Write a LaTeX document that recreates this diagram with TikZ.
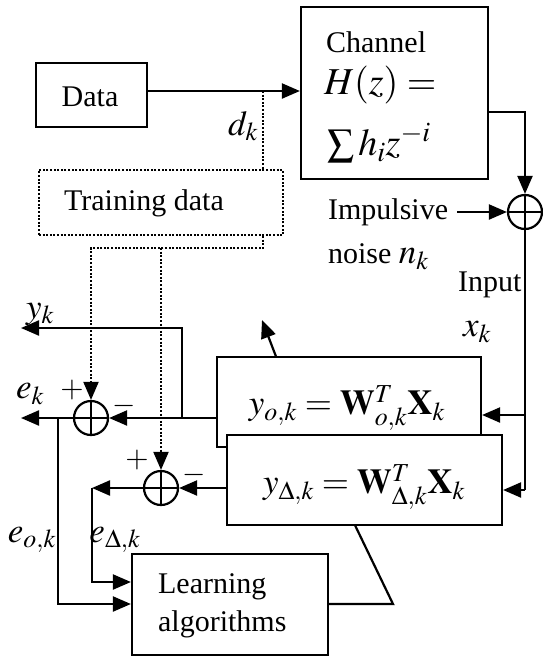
\documentclass[tikz,border=0pt]{standalone}
\usepackage{mathptmx}
\usepackage{fontspec}
\setmainfont{Liberation Serif}
\usetikzlibrary{arrows.meta, calc}

\begin{document}
\begin{tikzpicture}[x=1pt, y=-1pt, >={Triangle[length=18pt, width=15pt]}, line width=2.2pt,
  blk/.style={draw, fill=white, inner sep=0pt},
  dotline/.style={line width=2pt, dash pattern=on 2pt off 1.6pt},
  summer/.style={circle, draw, fill=white, minimum size=34pt, inner sep=0pt,
    path picture={\draw (path picture bounding box.north) -- (path picture bounding box.south)
      (path picture bounding box.west) -- (path picture bounding box.east);}},
  txt/.style={font=\fontsize{30}{36}\selectfont, inner sep=0pt},
  mth/.style={font=\fontsize{35}{40}\selectfont, inner sep=0pt}]
  \useasboundingbox (0,0) rectangle (542,656);

  % Blocks
  \node[blk, minimum width=111pt, minimum height=64pt] (data) at (91.5,95) {};
  \node[txt] (datalbl) at (90,97) {Data};
  \node[blk, minimum width=187pt, minimum height=172pt] (chan) at (394.5,93) {};
  \node[txt, anchor=west] (chanlbl) at (325,42) {Channel};
  \node[font=\fontsize{38}{44}\selectfont, inner sep=0pt, anchor=west] (hz) at (323,85) {$H(z)=$};
  \node[font=\fontsize{38}{44}\selectfont, inner sep=0pt, anchor=west] (hsum) at (326,143) {$\sum h_i z^{-i}$};
  \node[draw, dotline, minimum width=244pt, minimum height=65pt, inner sep=0pt] (train) at (161,202.5) {};
  \node[txt, anchor=west] (trainlbl) at (63,203) {Training data};
  \node[blk, minimum width=196pt, minimum height=101pt] (lrn) at (230,604.5) {};
  \node[txt, anchor=west, align=left, font=\fontsize{30}{38}\selectfont] (lrnlbl) at (157,606)
    {Learning\\algorithms};

  % Summing junctions
  \node[summer] (s0) at (525,212) {};
  \node[summer] (s1) at (91,418) {};
  \node[summer] (s2) at (161,488) {};

  % Adaptation arrow (passes behind the filters)
  \coordinate (lcorner) at (393,604);
  \coordinate (lbend) at (285,380);
  \coordinate (ltip) at (262,320);
  \draw (lrn.east |- lcorner) -- (lcorner) -- (lbend);
  \draw[->] (lbend) -- (ltip);

  % Filters
  \node[blk, minimum width=264pt, minimum height=90pt] (wo) at (349,402) {};
  \node[mth] (wolbl) at (347,408) {$y_{o,k}=\mathbf{W}_{o,k}^{T}\mathbf{X}_k$};
  \node[blk, minimum width=275pt, minimum height=90pt] (wd) at (364.5,480) {};
  \node[mth] (wdlbl) at (364,487) {$y_{\Delta,k}=\mathbf{W}_{\Delta,k}^{T}\mathbf{X}_k$};

  % Data path and channel
  \coordinate (dtap) at (263,91);
  \draw[->] (data.east |- dtap) -- (dtap -| chan.west);
  \node[mth] (dk) at (243,126) {$d_k$};
  \coordinate (chout) at (488,112);
  \draw[->] (chout) -| (s0.north);
  \coordinate (nstart) at (457,212);
  \draw[->] (nstart) -- (s0.west);
  \node[txt, anchor=west] (noise1) at (327,212) {Impulsive};
  \node[txt, anchor=west] (noise2) at (327,257) {noise {\fontsize{35}{40}\selectfont$n_k$}};
  \node[txt, anchor=west] (inlbl) at (457,285) {Input};
  \node[mth] (xk) at (477,332) {$x_k$};

  % Training data (dotted)
  \coordinate (tb1) at (263,248);
  \draw[dotline] (dtap) -- (dtap |- train.north);
  \draw[dotline, ->] (train.south -| tb1) -- (tb1) -- (tb1 -| s1.north) -- (s1.north);
  \draw[dotline, ->] (tb1 -| s2.north) -- (s2.north);

  % Input to the filters
  \coordinate (ia) at (525,415);
  \coordinate (ib) at (525,490);
  \draw (s0.south) -- (ib);
  \draw[->] (ia) -- (ia -| wo.east);
  \draw[->] (ib) -- (ib -| wd.east);

  % Outputs and errors
  \draw[->] (wo.west |- s1) -- (s1.east);
  \coordinate (yk) at (182,418);
  \coordinate (yout) at (21,328);
  \draw[->] (yk) |- (yout);
  \coordinate (ekout) at (21,418);
  \draw[->] (s1.west) -- (ekout);
  \coordinate (eo) at (58,418);
  \draw[->] (eo) |- (lrn.west |- 0,604);
  \draw[->] (wd.west |- s2) -- (s2.east);
  \coordinate (ed) at (92,488);
  \draw[->] (s2.west) -- (ed);
  \draw[->] (ed) |- (lrn.west |- 0,582);

  % Labels
  \node[mth] (yklbl) at (40,314) {$y_k$};
  \node[mth] (eklbl) at (30,394) {$e_k$};
  \node[txt] (p1) at (72,390) {$+$};
  \node[txt] (m1) at (124,406) {$-$};
  \node[txt] (p2) at (137,460) {$+$};
  \node[txt] (m2) at (194,475) {$-$};
  \node[mth] (eolbl) at (32,540) {$e_{o,k}$};
  \node[mth] (edlbl) at (115,540) {$e_{\Delta,k}$};
\end{tikzpicture}
\end{document}
